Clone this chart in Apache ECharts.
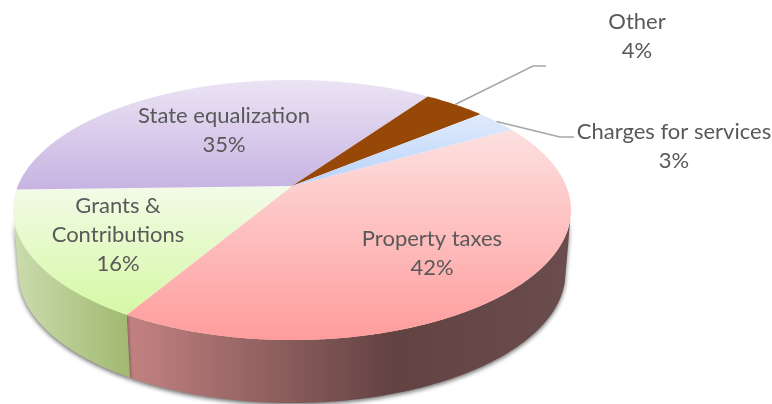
<!DOCTYPE html>
<html lang="en">
<head>
    <meta charset="UTF-8">
    <title>Revenue sources</title>
    <style>
        html, body { margin: 0; padding: 0; background: #fff; }
        #chart { width: 772px; height: 404px; }
    </style>
</head>
<body>
<div id="chart"></div>
<script src="https://cdn.jsdelivr.net/npm/echarts@6/dist/echarts.min.js"></script>
<script>
    // slices run clockwise, starting from the property taxes slice
    var categories = ['Property taxes', 'Grants &\nContributions', 'State equalization', 'Other', 'Charges for services'];
    var values = [41.6, 16.1, 35.1, 4.3, 2.9];

    var topColors = [
        ['#fde0e0', '#ff9c9c'],
        ['#f2fbe8', '#d6f8a4'],
        ['#ebe4f4', '#c7b3e2'],
        ['#974706', '#974706'],
        ['#e0ebfa', '#b8d2fd']
    ];
    var sideStops = [
        [[0, '#c48282'], [0.6, '#634242'], [1, '#6b4d4d']],
        [[0, '#cbdcae'], [1, '#a1b96f']],
        [[0, '#8d7aa6'], [1, '#8d7aa6']],
        [[0, '#6b3204'], [1, '#6b3204']],
        [[0, '#8a9cb8'], [1, '#8a9cb8']]
    ];
    // label centres and leader elbows, picked by eye
    var labelAt = [[432, 253], [118, 235], [224, 130], [637, 36], [674, 146]];
    var leaders = {3: [[533, 66], [546, 66]], 4: [[560, 137], [574, 137]]};

    // perspective of the disc: apex sits above the centre of the outline
    var apexX = 292, apexY = 186, radiusX = 274.2, radiusY = 125.6, tilt = 0.1846;
    var depth = 63, shrink = 0.98;
    var startDeg = 60.7;

    var total = values.reduce(function (a, b) { return a + b; }, 0);
    var angles = [];
    var at = startDeg;
    values.map(function (v) {
        var sweep = v / total * 360;
        angles.push([at, at + sweep]);
        at += sweep;
    });

    var project = function (deg, r, bottom) {
        var rad = deg * Math.PI / 180;
        var u = Math.sin(rad) * r, v = -Math.cos(rad) * r;
        var w = 1 - tilt * v;
        var x = radiusX * u / w, y = radiusY * v / w;
        return bottom ? [apexX + x * shrink, apexY + y + depth] : [apexX + x, apexY + y];
    };

    var arc = function (from, to, bottom) {
        var pts = [];
        var n = Math.max(2, Math.ceil((to - from) * 2));
        for (var i = 0; i <= n; i = i + 1) {
            pts.push(project(from + (to - from) * i / n, 1, bottom));
        }
        return pts;
    };

    var gradient = function (x2, y2, stops) {
        return new echarts.graphic.LinearGradient(0, 0, x2, y2, stops.map(function (s) {
            return {offset: s[0], color: s[1]};
        }));
    };

    var renderSide = function (params) {
        var a = angles[params.dataIndex];
        // only the part facing the viewer, the outline is widest near 100 and 260 degrees
        var from = Math.max(a[0], 104), to = Math.min(a[1], 256);
        if (to <= from) {
            return {type: 'group', children: []};
        }
        return {
            type: 'polygon',
            shape: {points: arc(from, to, false).concat(arc(from, to, true).reverse())},
            style: {
                fill: gradient(1, 0, sideStops[params.dataIndex]),
                shadowBlur: 4,
                shadowColor: 'rgba(0, 0, 0, 0.55)',
                shadowOffsetY: 2
            }
        };
    };

    var renderTop = function (params) {
        var i = params.dataIndex;
        var a = angles[i];
        var children = [{
            type: 'polygon',
            shape: {points: [[apexX, apexY]].concat(arc(a[0], a[1], false))},
            style: {fill: gradient(0, 1, [[0, topColors[i][0]], [1, topColors[i][1]]])}
        }, {
            type: 'text',
            style: {
                text: categories[i] + '\n' + Math.round(values[i]) + '%',
                x: labelAt[i][0],
                y: labelAt[i][1],
                align: 'center',
                verticalAlign: 'middle',
                fill: '#595959',
                fontFamily: 'Lato',
                fontSize: 22,
                lineHeight: 29
            }
        }];
        if (leaders[i]) {
            children.push({
                type: 'polyline',
                shape: {points: [project((a[0] + a[1]) / 2, 1, false)].concat(leaders[i])},
                style: {fill: 'none', stroke: '#a6a6a6', lineWidth: 1.5}
            });
        }
        return {type: 'group', children: children};
    };

    var myChart = echarts.init(document.getElementById('chart'));
    myChart.setOption({
        animation: false,
        series: [
            {type: 'custom', coordinateSystem: 'none', silent: true, z: 1, data: values, renderItem: renderSide},
            {type: 'custom', coordinateSystem: 'none', silent: true, z: 2, data: values, renderItem: renderTop}
        ]
    });
</script>
</body>
</html>
